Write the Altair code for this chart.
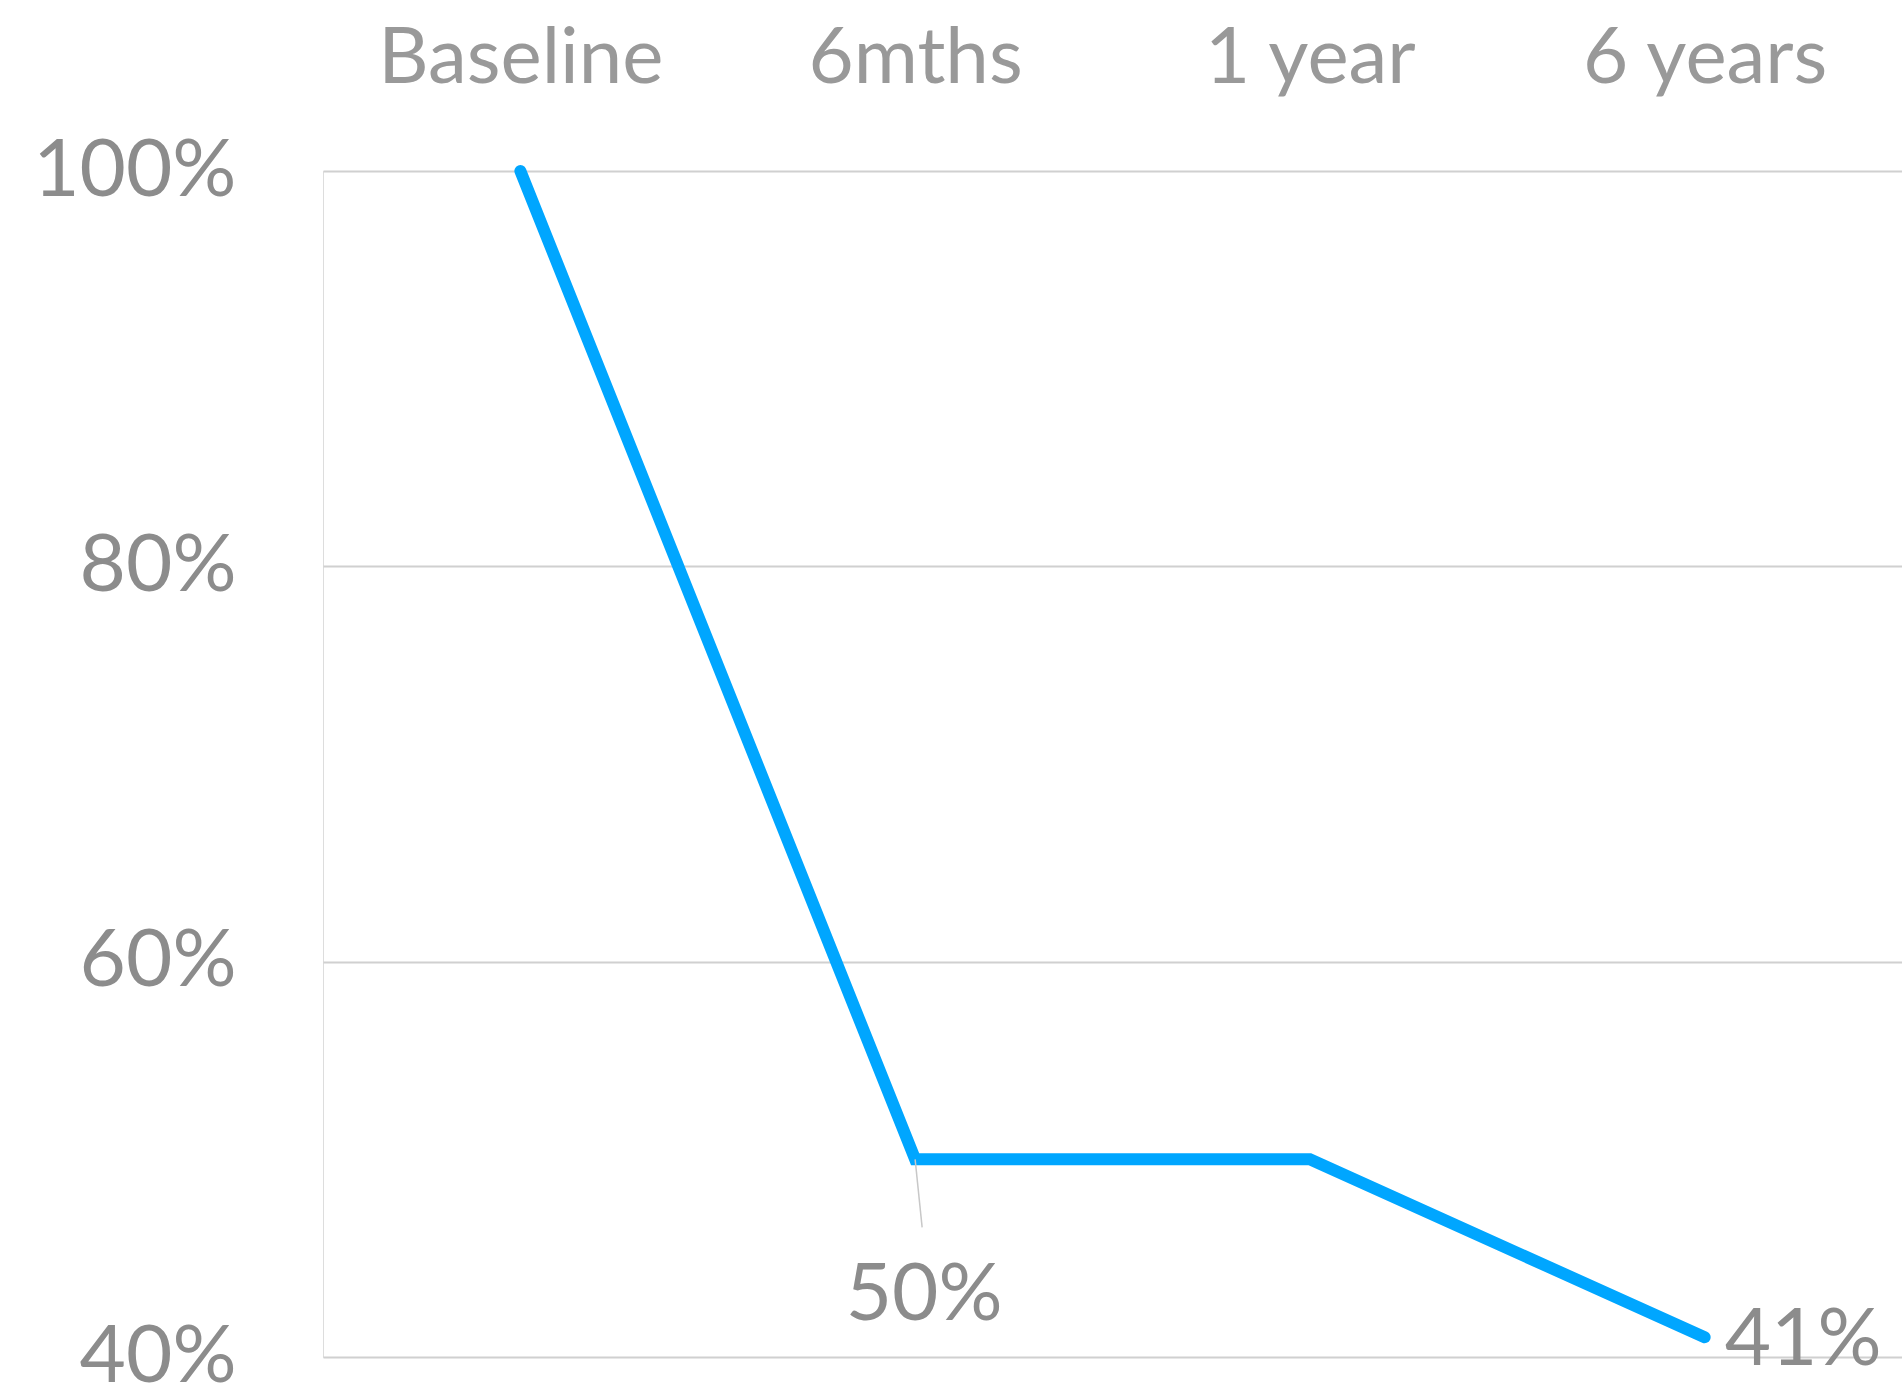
import altair as alt
import pandas as pd

# Share of patients over follow-up
periods = ["Baseline", "6mths", "1 year", "6 years"]
shares = [1.00, 0.50, 0.50, 0.41]

# Points that carry a value label
labelled_periods = ["6mths", "6 years"]

FONT = "Lato"
LINE_BLUE = "#00A6FF"
TEXT_GREY = "#8C8C8C"

df = pd.DataFrame({"period": periods, "share": shares})
df["label"] = df["share"].map(lambda v: f"{round(v * 100)}%")

x_enc = alt.X(
    "period:N",
    sort=periods,
    scale=alt.Scale(type="point", padding=0.5),
    axis=alt.Axis(
        orient="top",
        title=None,
        domain=False,
        ticks=False,
        grid=False,
        labelAngle=0,
        labelLimit=0,
        labelFont=FONT,
        labelFontSize=78,
        labelColor="#999999",
        labelPadding=89,
        labelBaseline="alphabetic",
    ),
)

y_enc = alt.Y(
    "share:Q",
    scale=alt.Scale(domain=[0.4, 1.0], nice=False, zero=False),
    axis=alt.Axis(
        title=None,
        values=[0.4, 0.6, 0.8, 1.0],
        format=".0%",
        domain=False,
        ticks=False,
        grid=True,
        gridColor="#D0D0D0",
        gridWidth=2,
        labelLimit=0,
        labelFont=FONT,
        labelFontSize=80,
        labelColor=TEXT_GREY,
        labelPadding=87,
    ),
)

base = alt.Chart(df).encode(x=x_enc, y=y_enc)

line = base.mark_line(
    color=LINE_BLUE, strokeCap="round", strokeJoin="miter"
).encode(strokeWidth=alt.value(12))

# Leader line from the 6mths point down to its label
leader = (
    base.transform_filter(alt.datum.period == labelled_periods[0])
    .mark_rule(color="#C8C8C8", strokeWidth=1.5, x2Offset=7, y2Offset=68)
    .encode(x2="period:N", y2="share:Q")
)

label_6m = (
    base.transform_filter(alt.datum.period == labelled_periods[0])
    .mark_text(font=FONT, fontSize=80, color=TEXT_GREY, align="center",
               baseline="middle", dx=9, dy=137)
    .encode(text="label:N")
)

label_6y = (
    base.transform_filter(alt.datum.period == labelled_periods[1])
    .mark_text(font=FONT, fontSize=80, color=TEXT_GREY, align="left",
               baseline="middle", dx=20, dy=4)
    .encode(text="label:N")
)

chart = (
    alt.layer(line, leader, label_6m, label_6y)
    .properties(
        width=1579,
        height=1186,
        autosize=alt.AutoSizeParams(type="none"),
        padding={"left": 323, "top": 171, "right": 0, "bottom": 32},
    )
    .configure_view(strokeWidth=0)
    .configure(background="white")
)

chart.save("out.html", embed_options={"renderer": "svg", "actions": False})
